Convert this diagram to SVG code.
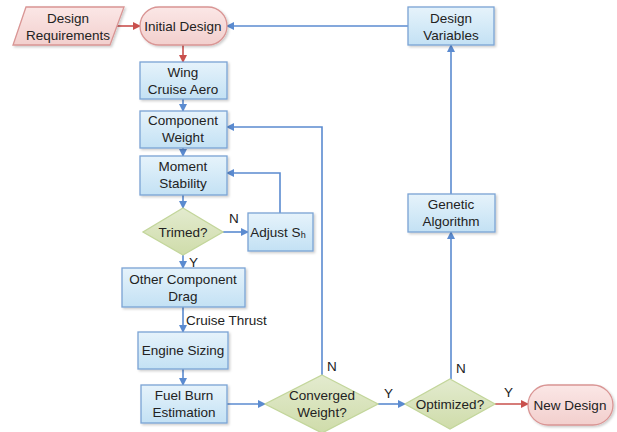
<svg xmlns="http://www.w3.org/2000/svg" width="617" height="432" viewBox="0 0 617 432">
<style>
text{font-family:"Liberation Sans",Arial,sans-serif;font-size:13.5px;fill:#222;text-anchor:middle}
.lbl{text-anchor:start}
.box{fill:url(#gb);stroke:#7aa3d4;stroke-width:1.3;filter:url(#sh)}
.pink{fill:url(#gp);stroke:#d99594;stroke-width:1.3;filter:url(#sh)}
.dia{fill:url(#gg);stroke:#c3d69b;stroke-width:1.3}
.cb{fill:none;stroke:#5b8bd0;stroke-width:1.6}
.cr{fill:none;stroke:#c9504d;stroke-width:1.6}
</style>
<defs>
<linearGradient id="gb" x1="0" y1="0" x2="0" y2="1"><stop offset="0" stop-color="#e6f3fb"/><stop offset="1" stop-color="#c3e1f4"/></linearGradient>
<linearGradient id="gp" x1="0" y1="0" x2="0" y2="1"><stop offset="0" stop-color="#fbe7e6"/><stop offset="1" stop-color="#f2cfcd"/></linearGradient>
<linearGradient id="gg" x1="0" y1="0" x2="0" y2="1"><stop offset="0" stop-color="#e3ebcf"/><stop offset="1" stop-color="#cfdcaa"/></linearGradient>
<filter id="sh" x="-10%" y="-10%" width="130%" height="140%"><feDropShadow dx="1.5" dy="1.5" stdDeviation="1" flood-color="#000" flood-opacity="0.2"/></filter>
<marker id="ab" markerWidth="8" markerHeight="8" refX="7" refY="4" orient="auto" markerUnits="userSpaceOnUse"><path d="M0,0 L8,4 L0,8 z" fill="#5b8bd0"/></marker>
<marker id="ar" markerWidth="8" markerHeight="8" refX="7" refY="4" orient="auto" markerUnits="userSpaceOnUse"><path d="M0,0 L8,4 L0,8 z" fill="#c9504d"/></marker>
</defs>
<g id="connectors">
<path class="cr" d="M117,26 H140" marker-end="url(#ar)"/>
<path class="cr" d="M183,45 V62" marker-end="url(#ar)"/>
<path class="cb" d="M183,99 V111" marker-end="url(#ab)"/>
<path class="cb" d="M183,148 V156" marker-end="url(#ab)"/>
<path class="cb" d="M183,195 V208" marker-end="url(#ab)"/>
<path class="cb" d="M223,232 H248" marker-end="url(#ab)"/>
<path class="cb" d="M280,213 V173 H227" marker-end="url(#ab)"/>
<path class="cb" d="M183,255 V268" marker-end="url(#ab)"/>
<path class="cb" d="M183,307 V332" marker-end="url(#ab)"/>
<path class="cb" d="M183,369 V385" marker-end="url(#ab)"/>
<path class="cb" d="M227,404 H265" marker-end="url(#ab)"/>
<path class="cb" d="M322,375 V127 H227" marker-end="url(#ab)"/>
<path class="cb" d="M378,404 H405" marker-end="url(#ab)"/>
<path class="cr" d="M495,404 H528" marker-end="url(#ar)"/>
<path class="cb" d="M451,379 V232" marker-end="url(#ab)"/>
<path class="cb" d="M451,194 V45" marker-end="url(#ab)"/>
<path class="cb" d="M408,26 H227" marker-end="url(#ab)"/>
</g>
<g id="design-requirements"><path class="pink" d="M26,7 H124 L110,45 H13 Z"/><text x="68" y="23">Design</text><text x="68" y="40">Requirements</text></g>
<g id="initial-design"><rect class="pink" x="140" y="7" width="87" height="38" rx="19"/><text x="183" y="31">Initial Design</text></g>
<g id="wing"><rect class="box" x="140" y="62" width="87" height="37"/><text x="183" y="77">Wing</text><text x="183" y="94">Cruise Aero</text></g>
<g id="component-weight"><rect class="box" x="140" y="111" width="87" height="37"/><text x="183" y="125">Component</text><text x="183" y="142">Weight</text></g>
<g id="moment-stability"><rect class="box" x="140" y="156" width="87" height="39"/><text x="183" y="171">Moment</text><text x="183" y="188">Stability</text></g>
<g id="trimed"><path class="dia" d="M183,208 L223,232 L183,255 L143,232 Z"/><text x="183" y="237">Trimed?</text></g>
<g id="adjust"><rect class="box" x="248" y="213" width="65" height="38"/><text x="278" y="237">Adjust S<tspan font-size="9" dy="1">h</tspan></text></g>
<g id="other-drag"><rect class="box" x="122" y="268" width="123" height="39"/><text x="183" y="284">Other Component</text><text x="183" y="301">Drag</text></g>
<g id="engine-sizing"><rect class="box" x="138" y="332" width="90" height="37"/><text x="183" y="355">Engine Sizing</text></g>
<g id="fuel-burn"><rect class="box" x="141" y="385" width="86" height="38"/><text x="184" y="400">Fuel Burn</text><text x="184" y="417">Estimation</text></g>
<g id="converged"><path class="dia" d="M322,375 L378,404 L322,433 L265,404 Z"/><text x="322" y="400">Converged</text><text x="322" y="417">Weight?</text></g>
<g id="optimized"><path class="dia" d="M450,379 L495,404 L450,429 L405,404 Z"/><text x="450" y="409">Optimized?</text></g>
<g id="new-design"><rect class="pink" x="528" y="385" width="85" height="40" rx="20"/><text x="570" y="410">New Design</text></g>
<g id="genetic"><rect class="box" x="408" y="194" width="87" height="38"/><text x="451" y="209">Genetic</text><text x="451" y="226">Algorithm</text></g>
<g id="design-variables"><rect class="box" x="408" y="7" width="86" height="38"/><text x="451" y="23">Design</text><text x="451" y="40">Variables</text></g>
<g id="labels">
<text class="lbl" x="229" y="223">N</text>
<text class="lbl" x="189" y="267">Y</text>
<text class="lbl" x="186" y="325">Cruise Thrust</text>
<text class="lbl" x="327" y="371">N</text>
<text class="lbl" x="384" y="398">Y</text>
<text class="lbl" x="456" y="373">N</text>
<text class="lbl" x="504" y="397">Y</text>
</g>
</svg>
